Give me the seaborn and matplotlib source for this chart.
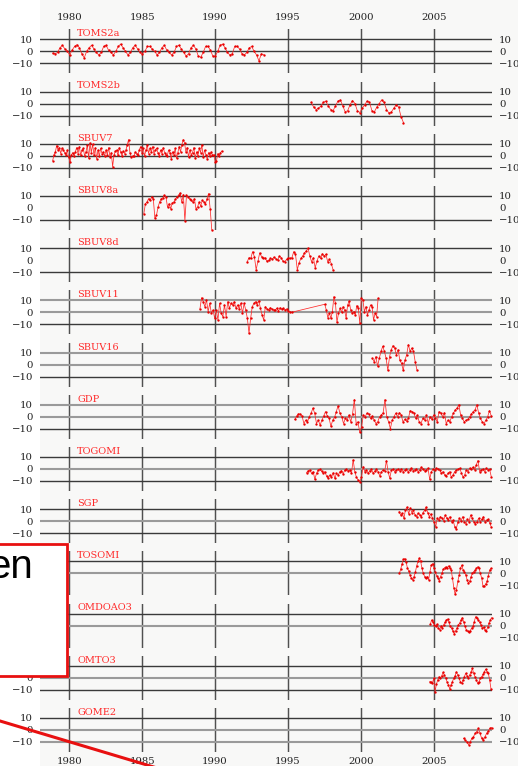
import numpy as np
import pandas as pd
import matplotlib
matplotlib.use("Agg")
import matplotlib.pyplot as plt
import seaborn as sns
from matplotlib.patches import Rectangle
from matplotlib.lines import Line2D

# ---------------- data (ozone anomalies, %) ----------------
names = ["TOMS2a", "TOMS2b", "SBUV7", "SBUV8a", "SBUV8d", "SBUV11", "SBUV16",
         "GDP", "TOGOMI", "SGP", "TOSOMI", "OMDOAO3", "OMTO3", "GOME2"]

year_ticks = [1980, 1985, 1990, 1995, 2000, 2005]
y_ticks = [-10, 0, 10]
y_tick_labels = ["\u221210", "0", "10"]

# first / last date of each record (decimal years)
toms2a_span = [1978.87, 1993.35]
toms2b_span = [1996.6, 2002.93]
sbuv7_span = [1978.87, 1990.47]
sbuv8a_span = [1985.12, 1989.78]
sbuv8d_span = [1992.21, 1998.1]
sbuv11a_span = [1988.97, 1995.25]
sbuv11b_span = [1997.53, 2001.19]
sbuv16_span = [2000.8, 2003.85]
gdp_span = [1995.48, 2008.95]
togomi_span = [1996.28, 2008.95]
sgp_span = [2002.63, 2008.95]
tosomi_span = [2002.65, 2008.93]
omdoao3_span = [2004.77, 2008.97]
omto3_span = [2004.73, 2008.93]
gome2_span = [2007.05, 2008.97]

toms2a = [-1.5,
          -2, -1, 3, 5, 2, 0,
          -3, 1, 4, 5.5, 3, -2,
          -5.5, 0, 3, 5, 2, -1,
          -3, -1, 4, 5, 1, -1,
          -3, 0, 4, 6, 3, 0,
          -3, -1, 3, 5, 2, -1,
          -2, 0, 4, 4, 2, 0,
          -3, -1, 3, 5, 1, -1,
          -3, -1, 4, 5, 2, -1,
          -4, -2, 3, 5, 2, -4,
          -5, -1, 4, 4, 1, -4,
          -4, 0, 5, 6, 3, -1,
          -3, -2, 4, 4, 2, -2,
          -3, -1, 3, 4, 0, -3,
          -8, -2, -3]

toms2b = [1, -3, -5, -4, -2, 1, 2, -2, -5, -6, -2, 2, 3, -2, -7, -6, -1, 2.5,
          0, -6, -7.5, -4, -1, 2, 1, -6, -7, -3, 0, 3, 1, -5, -8, -7, -4, -1,
          -3, -11, -16]

sbuv7 = [-4.1, 0.9, 3.2, 8.5, 4.7, 6.8, 1.8, 6.2, 4.7, 2.6, 0.9, 4.7, -1.2, -5.6,
         0.3, 2.6, -0.3, 3.2, 6.8, 1.8, 7.6, 0.3, 4.7, 6.2, -0.3, 3.2, 9.1, -2.1,
         10.6, 2.6, 9.7, 0.3, 6.8, -2.6, 4.7, -0.3, 6.2, 1.8, 3.2, -0.3, 4.7, 0.9,
         6.8, -1.2, 2.6, -9.1, 0.3, 3.8, 4.7, 0.3, 6.8, 3.2, -0.3, 3.8, 1.8, 4.7,
         9.1, 13.5, 2.6, -1.2, -0.3, -0.3, 3.2, 1.8, 0.3, 4.7, 7.6, 2.6, 6.2, -0.3,
         4.7, 9.1, 1.8, 6.2, 3.2, 7.6, 1.8, 4.7, 6.2, 2.6, -0.3, 4.7, 1.8, 6.8,
         2.6, 0.9, -0.3, 4.7, 2.6, -2.6, 3.2, 0.9, 6.2, -2.1, 2.6, 7.6, 3.2, 9.1,
         13.5, 10.6, 3.2, 6.8, -1.2, 4.7, 0.9, 2.6, 6.8, -2.1, 3.2, -0.3, 6.2, 2.6,
         9.1, -1.2, 4.7, 0.9, -2.6, 2.6, -0.3, 3.2, 0.3, 0.9, -5, -4.1, 1.8, -0.3,
         2.6, 3.8]

sbuv8a = [-4.9, 3.5, 4.9, 7.7, 6.3, 9.2, 7.7, -8.6, -6.3, 0.7, 4.9, 7.7, 8.3,
          10.6, 9.2, 0.7, 3.5, -0.7, 4.1, 4.9, 7.2, 9.2, 10.6, 12.5, 4.9, 11.1,
          -10.6, 10.6, 9.2, 7.7, 6.3, 4.9, 7.7, -0.7, 0.7, 4.9, 1.5, 6.3, 4.9,
          3.5, 7.7, 12, -0.7, -18.2]

sbuv8d = [-1.4, 2, 1.4, 7, 3, -8, -1, 6, 3, 1.4, 2, -1, -0.3, 1.4, 0.6, 2.5,
          1.1, 0, 3.4, 2, -1, -1.4, 0.6, 2, 1.4, 2, 7, 4.8, -8, -2.3, 1.4, 3.4,
          6, 7.6, 10, 3.4, -1.4, 2, -6.4, -0.8, 3.4, 1.4, 5.3, 3.4, 4.8, -1.4,
          0.6, -3, -8]

sbuv11a = [2.8, 12.2, 8.9, 4.7, 10.3, 0.6, 7.5, -0.8, 1.9, -5, 1.9, -6.4, 7.5,
           -0.8, -3.6, 6.1, -3.6, 8.9, 3.3, 7.5, 6.1, 8.9, 3.3, 6.1, 2.8, 7.5,
           -0.8, 7.5, 1.9, -5, -17.5, -5, 4.7, 7.5, 8.9, 6.1, 9.7, 3.3, -2.2,
           -6.4, 4.7, 2.8, 1.9, 3.9, 2.8, 1.9, 1.9, 3.3, 1.1, 3.9, 2.5, 3.3, 1.9,
           2.8, 1.1, 0.6, 0]
sbuv11b = [6.7, 1.9, -4.4, -0.8, -5, 0.6, 13.1, 7.5, -8.3, -0.8, 3.3, 0, 4.7,
           1.9, -5, 6.1, 9.4, 1.9, -0.8, 0.6, -2.2, 5.6, 3.3, -9.2, 11.7, 10.3,
           0.6, 4.7, -2.2, 1.9, 6.1, 4.7, -6.4, -0.8, -3.6, 11.7]

sbuv16 = [5.1, 2.3, 6.6, -1.4, 5.1, 10.9, 15.1, 10.9, 5.1, -4.9, 6.6, 12.3,
          15.7, 13.7, 8, 12.3, 3.7, 0.9, -4.9, 3.7, 8, 16.6, 10.9, 13.7, 10.9,
          2.3, -4.3]

gdp = [-2.3, 0.6, 2.3, 2.3, 0.6, -5.7, -2.9, -4.3, 0, 2.9, 7.1, 2.9, -5.7, -2.9,
       -7.1, -2.9, 0.6, 4.3, 0.6, -1.4, -8, -2.9, -0.6, 4.3, 9.1, 2.9, 0, -5.7,
       -1.4, -2.9, 1.4, -4.3, 2.3, 14.3, -5.7, -4.3, -12.9, -8.6, 1.4, 0, 2.9,
       2.3, -1.4, 0.6, -2.9, -5.7, -4.3, 0, 1.4, 3.4, 14.3, 0, -4.3, -10, -2.9,
       0, 2.9, 0, 3.4, 1.4, -4.3, -2.3, -3.7, -1.4, 5.1, 4.3, 3.4, -1.4, 1.4,
       -4.3, -5.7, -1.4, -2.9, 1.4, -5.7, 0, -2.3, 1.4, -1.4, -4.3, 4.3, 2.9, 0,
       3.4, -5.7, -2.9, -4.3, 0, 2.9, 5.7, 7.1, 10, 1.4, -1.4, -4.3, -2.9, -2.3,
       0, 2.3, 4.3, 5.7, 10, 2.9, -1.4, -4.3, -5.7, -2.9, 0, 5.1, 0.6]

togomi = [-3.1, -1.4, -0.8, -3.7, -2.3, -8.7, -3.7, -0.8, -0.3, -1.7, -3.7, -2.3,
          -5.9, -7.9, -5.1, -7, -3.1, -7.9, -3.7, -5.1, -2.3, -1.4, -4.2, -0.8,
          -0.3, -1.7, -0.8, -3.7, 7.6, -2.3, -7, -9.3, -10.7, -7, 2, -2.3, -0.8,
          -3.7, -1.4, -0.3, -3.7, -1.7, -0.3, -2.3, -5.9, -2.3, -0.8, -1.7, 7,
          -2.3, -7.9, -0.8, -0.3, -2.3, -0.8, -0.3, -1.4, -0.3, -2.3, -0.8, -0.3,
          -2.3, -0.8, 0.6, -1.4, -0.8, 0, -2.3, -0.8, 1.4, -0.3, -1.7, -0.8, 0.6,
          -8.7, -2.3, -0.3, -0.8, 0.6, -0.3, -0.8, -3.7, -2.3, -5.1, -5.9, -3.7,
          -2.3, -7, -5.1, -2.3, -0.8, -0.3, 0.6, -3.1, -7, -5.1, -0.8, -2.3, 0.6,
          -0.3, 1.4, -0.8, 3.4, 7, -2.3, -0.8, -0.3, -2.3, 0.6, -0.8, -0.3, -6.5]

sgp = [8, 5.1, 6.6, 2.3, 9.4, 11.7, 6, 10.9, 7.1, 8.9, 5.1, 3.7, 6.6, 5.1, 3.7,
       7.1, 8.9, 11.7, 7.1, 3.7, 6, 2.3, -0.6, -4.9, 2.3, 0.9, 3.7, 2.3, 0.3,
       5.1, 2.3, 0.9, 3.7, -0.6, 0.9, -4.9, -6.3, -0.6, 2.3, 0.3, 3.7, -0.6,
       -2, 1.4, -0.6, 5.1, 2.3, -0.6, -2, -0.6, 2.3, -0.6, 1.4, 3.7, -0.6, 0.9,
       1.4, -1.4, -4.9]

tosomi = [0, 3.5, 8.1, 11.6, 12.2, 9.5, 4.6, 1.9, -1.4, -4.1, -5.4, -2.7, 0.8,
          6.2, 10, 12.7, 10, 4.1, 0, -2.7, -4.1, -2.7, -5.4, 1.4, 6.8, 8.1, 4.6,
          1.4, -1.9, -4.1, -6.2, -2.7, 0, 3.5, 4.6, 5.4, 4.6, 6.2, 4.6, 2.7, -4.1,
          -12.2, -17.6, -13.5, -6.8, -1.4, 4.1, 6.8, 2.7, 1.4, -1.4, -5.4, -8.1,
          -6.8, -2.7, 0, 1.4, 2.7, 4.1, 5.4, 4.1, 0, -4.1, -10.8, -10.8, -8.9,
          -6.8, -1.9, 2.7, 4.1]

omdoao3 = [1.1, 4.6, 2.7, 0.5, -0.8, 1.1, -2.2, -3.5, -0.8, -2.2, 0.5, 2.7, 4.6,
           5.4, 2.7, -0.8, -2.2, -4.9, -7, -4.3, -2.2, 0.5, 1.9, 4.6, 6.5, 3.2,
           -0.8, -3.5, -4.9, -5.4, -4.3, -2.2, -0.8, 3.2, 7.3, 5.9, 4.6, 2.7, 0.5,
           -2.2, -1.6, -3.5, -4.9, -1.6, 1.9, 4.6, 6.5]

omto3 = [-3.3, -3.8, -4.7, -0.5, -11.5, -5.5, -1.9, 0.8, -0.5, 1.6, 4.4, 2.2,
         -0.5, -3.3, -6, -9.3, -6, -3.3, -0.5, 1.6, 4.9, 2.2, -0.5, -3.3, -4.7,
         -1.9, 0.8, 3.6, 1.6, -0.5, 2.2, 4.9, 7.7, 3.6, 0.8, -1.9, -4.7, -3.3,
         -0.5, 0.8, 2.7, 4.9, 7.1, 4.9, 3.6, -1.9, -9.3]

gome2 = [-7.1, -8.6, -10, -12.3, -10, -7.1, -5.7, -2.9, -1.4, 1.4, -2.9, -7.1,
         -8.6, -5.7, -2.9, -0.9, 1.4, 2]

segments = {
    "TOMS2a": [(toms2a_span, toms2a)],
    "TOMS2b": [(toms2b_span, toms2b)],
    "SBUV7": [(sbuv7_span, sbuv7)],
    "SBUV8a": [(sbuv8a_span, sbuv8a)],
    "SBUV8d": [(sbuv8d_span, sbuv8d)],
    "SBUV11": [(sbuv11a_span, sbuv11a), (sbuv11b_span, sbuv11b)],
    "SBUV16": [(sbuv16_span, sbuv16)],
    "GDP": [(gdp_span, gdp)],
    "TOGOMI": [(togomi_span, togomi)],
    "SGP": [(sgp_span, sgp)],
    "TOSOMI": [(tosomi_span, tosomi)],
    "OMDOAO3": [(omdoao3_span, omdoao3)],
    "OMTO3": [(omto3_span, omto3)],
    "GOME2": [(gome2_span, gome2)],
}

# reference-line styling per panel (10, 0, -10): d=dark, g=grey, -=none
line_style = ["ddd", "ddd", "ddd", "d-d", "d-d", "ggd", "ggd",
              "ggd", "dgd", "dgd", "dg-", "dg-", "dgd", "dgg"]
# left-hand tick labels hidden behind the callout box
hidden_left = {"TOSOMI": [0, 1, 2], "OMDOAO3": [0, 1, 2], "OMTO3": [2]}

# ---------------- figure ----------------
W, H = 518, 766
fig = plt.figure(figsize=(W / 100, H / 100), dpi=100)
fig.patch.set_facecolor("white")
plt.rcParams["font.family"] = ["DejaVu Serif"]

fig.add_artist(Rectangle((40 / W, 0), 1, 1, transform=fig.transFigure,
                         facecolor="#f8f8f7", edgecolor="none", zorder=-5))

RED = "#ff2a2a"
DARK = "#3a3a3a"
GREY = "#9a9a9a"
px_per_unit = 1.2
half_h = 22.0
x0, x1 = 40.0, 492.0

for k, name in enumerate(names):
    zero_y = 51.3 + 52.2 * k
    bottom = H - (zero_y + half_h)
    ax = fig.add_axes([x0 / W, bottom / H, (x1 - x0) / W, 2 * half_h / H])
    ax.set_facecolor("none")
    lim = half_h / px_per_unit
    ax.set_xlim(1978, 2009)
    ax.set_ylim(-lim, lim)
    for s in ax.spines.values():
        s.set_visible(False)

    for yr in year_ticks:
        ax.axvline(yr, color="#505050", lw=1.05, zorder=1)
    for lvl, code in zip([10, 0, -10], line_style[k]):
        if code == "d":
            ax.axhline(lvl, color=DARK, lw=1.0, zorder=1)
        elif code == "g":
            ax.axhline(lvl, color=GREY, lw=1.5, zorder=1)

    rows = []
    for span, vals in segments[name]:
        xs = np.linspace(span[0], span[1], len(vals))
        rows.append(pd.DataFrame({"year": xs, "anom": vals}))
    df = pd.concat(rows, ignore_index=True)
    sns.lineplot(data=df, x="year", y="anom", ax=ax, color=RED, lw=0.55,
                 marker="o", markersize=1.7, markeredgewidth=0,
                 markerfacecolor="#e80000", estimator=None, sort=False,
                 legend=False, clip_on=False, zorder=3)

    ax.text(1980.55, 12.5, name, color="#ff2a2a", fontsize=7,
            family="DejaVu Serif", va="baseline", ha="left", zorder=4)

    ax.set_ylabel("")
    ax.set_xlabel("")
    ax.set_yticks(y_ticks)
    ax.set_yticklabels(y_tick_labels)
    ax.tick_params(axis="y", length=0, left=True, right=True, labelleft=True,
                   labelright=True, labelsize=7.3, colors="#222222", pad=5)
    for lab in ax.get_yticklabels():
        lab.set_family("DejaVu Serif")
    for t_i in hidden_left.get(name, []):
        ax.yaxis.get_major_ticks()[t_i].label1.set_visible(False)
    ax.set_xticks(year_ticks)
    ax.set_xticklabels([str(y) for y in year_ticks])
    if k == 0:
        ax.tick_params(axis="x", length=0, top=True, labeltop=True,
                       bottom=False, labelbottom=False, labelsize=7.3,
                       colors="#222222", pad=5.3)
    elif k == len(names) - 1:
        ax.tick_params(axis="x", length=0, top=False, labeltop=False,
                       bottom=True, labelbottom=True, labelsize=7.3,
                       colors="#222222", pad=4.0)
    else:
        ax.tick_params(axis="x", length=0, labelbottom=False, labeltop=False)

# overlay: callout box and pointer line seen in the reference
fig.add_artist(Rectangle((-4 / W, (H - 676) / H), 71 / W, 132 / H,
                         transform=fig.transFigure, facecolor="white",
                         edgecolor="#e81010", lw=2.0, zorder=10))
fig.text(-11.5 / W, (H - 578) / H, "en", family="Liberation Sans",
         fontsize=29, color="black", va="baseline", ha="left", zorder=11)
fig.add_artist(Line2D([-5 / W, 160 / W], [(H - 719.5) / H, (H - 768.9) / H],
                      transform=fig.transFigure, color="#e81010", lw=2.2,
                      zorder=10))

fig.savefig("out.png", dpi=100)
